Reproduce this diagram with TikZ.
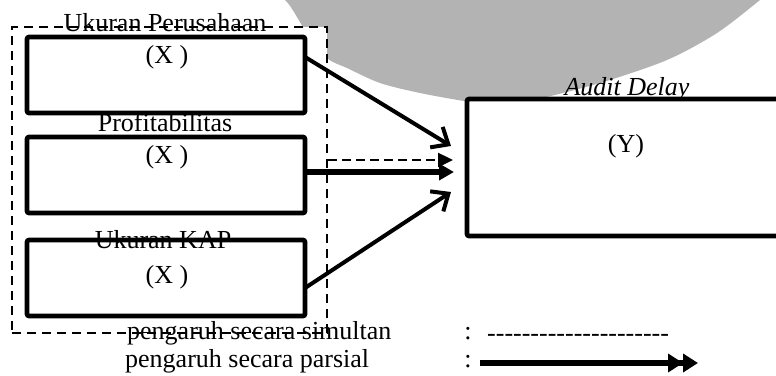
\documentclass[tikz,border=0pt]{standalone}
\usepackage{fontspec}
\setmainfont{Liberation Serif}
\usetikzlibrary{arrows.meta}
\definecolor{wmgray}{RGB}{179,179,179}
\begin{document}
\begin{tikzpicture}[x=1pt,y=-1pt,
  varbox/.style={draw, fill=white, line width=4.6pt, rounded corners=2pt, inner sep=0pt},
  grpbox/.style={draw, fill=white, line width=2.4pt, dash pattern=on 9pt off 6pt, inner sep=0pt},
  lbl/.style={font=\fontsize{26}{30}\selectfont, inner sep=0pt, anchor=base},
  openarrow/.style={line width=4pt, -{Straight Barb[length=14pt,width=24pt,line width=4pt]}},
  fullarrow/.style={line width=5.5pt, -{Triangle[length=15pt,width=16pt]}},
  simarrow/.style={line width=2.4pt, dash pattern=on 9pt off 5pt, -{Triangle[length=15pt,width=14pt]}},
  legarrow/.style={line width=5.5pt, -{Triangle[length=15pt,width=18pt] Triangle[length=15pt,width=18pt]}}
]
\clip (0,0) rectangle (776,375);
% watermark
\fill[wmgray] plot[smooth] coordinates {(262,-5) (285,0) (305,30) (327,58) (347,68) (380,83) (420,93) (470,102) (495,104) (533,100) (600,83) (667,60) (717,33) (760,0) (768,-8)} -- (768,-20) -- (262,-20) -- cycle;
% group box
\node[grpbox, minimum width=315pt, minimum height=306pt] (grp) at (169.5,180) {};
% variable boxes
\node[varbox, minimum width=278pt, minimum height=76pt] (x1) at (166,75) {};
\node[varbox, minimum width=278pt, minimum height=76pt] (x2) at (166,175) {};
\node[varbox, minimum width=278pt, minimum height=76pt] (x3) at (166,278) {};
\node[varbox, minimum width=333pt, minimum height=137pt] (y) at (633.5,167.5) {};
% labels
\node[lbl] (l1) at (165,31) {Ukuran Perusahaan};
\node[lbl] (v1) at (167,63) {(X )};
\node[lbl] (l2) at (165,131) {Profitabilitas};
\node[lbl] (v2) at (167,163) {(X )};
\node[lbl] (l3) at (163,248) {Ukuran KAP};
\node[lbl] (v3) at (167,283) {(X )};
\node[lbl] (ly) at (627,95) {\itshape Audit Delay};
\node[lbl] (vy) at (626,152) {(Y)};
% arrows
\coordinate (s1) at (305,57);
\coordinate (t1) at (451,146);
\coordinate (t2) at (453,160);
\coordinate (s3) at (305,172);
\coordinate (t3) at (454,172);
\coordinate (s4) at (305,288);
\coordinate (t4) at (451,192);
\draw[openarrow] (s1) -- (t1);
\draw[simarrow] (grp.east |- t2) -- (t2);
\draw[fullarrow] (s3) -- (t3);
\draw[openarrow] (s4) -- (t4);
% legend
\node[lbl, anchor=base west] (g1) at (127,339) {pengaruh secara simultan};
\node[lbl, anchor=base west] (g2) at (125,367) {pengaruh secara parsial};
\node[lbl] (c1) at (468,339) {:};
\node[lbl] (c2) at (468,367) {:};
\node[lbl, anchor=base west] (dd) at (487,341) {-{}-{}-{}-{}-{}-{}-{}-{}-{}-{}-{}-{}-{}-{}-{}-{}-{}-{}-{}-{}-};
\coordinate (la) at (480,363);
\coordinate (lb) at (698,363);
\draw[legarrow] (la) -- (lb);
\end{tikzpicture}
\end{document}
